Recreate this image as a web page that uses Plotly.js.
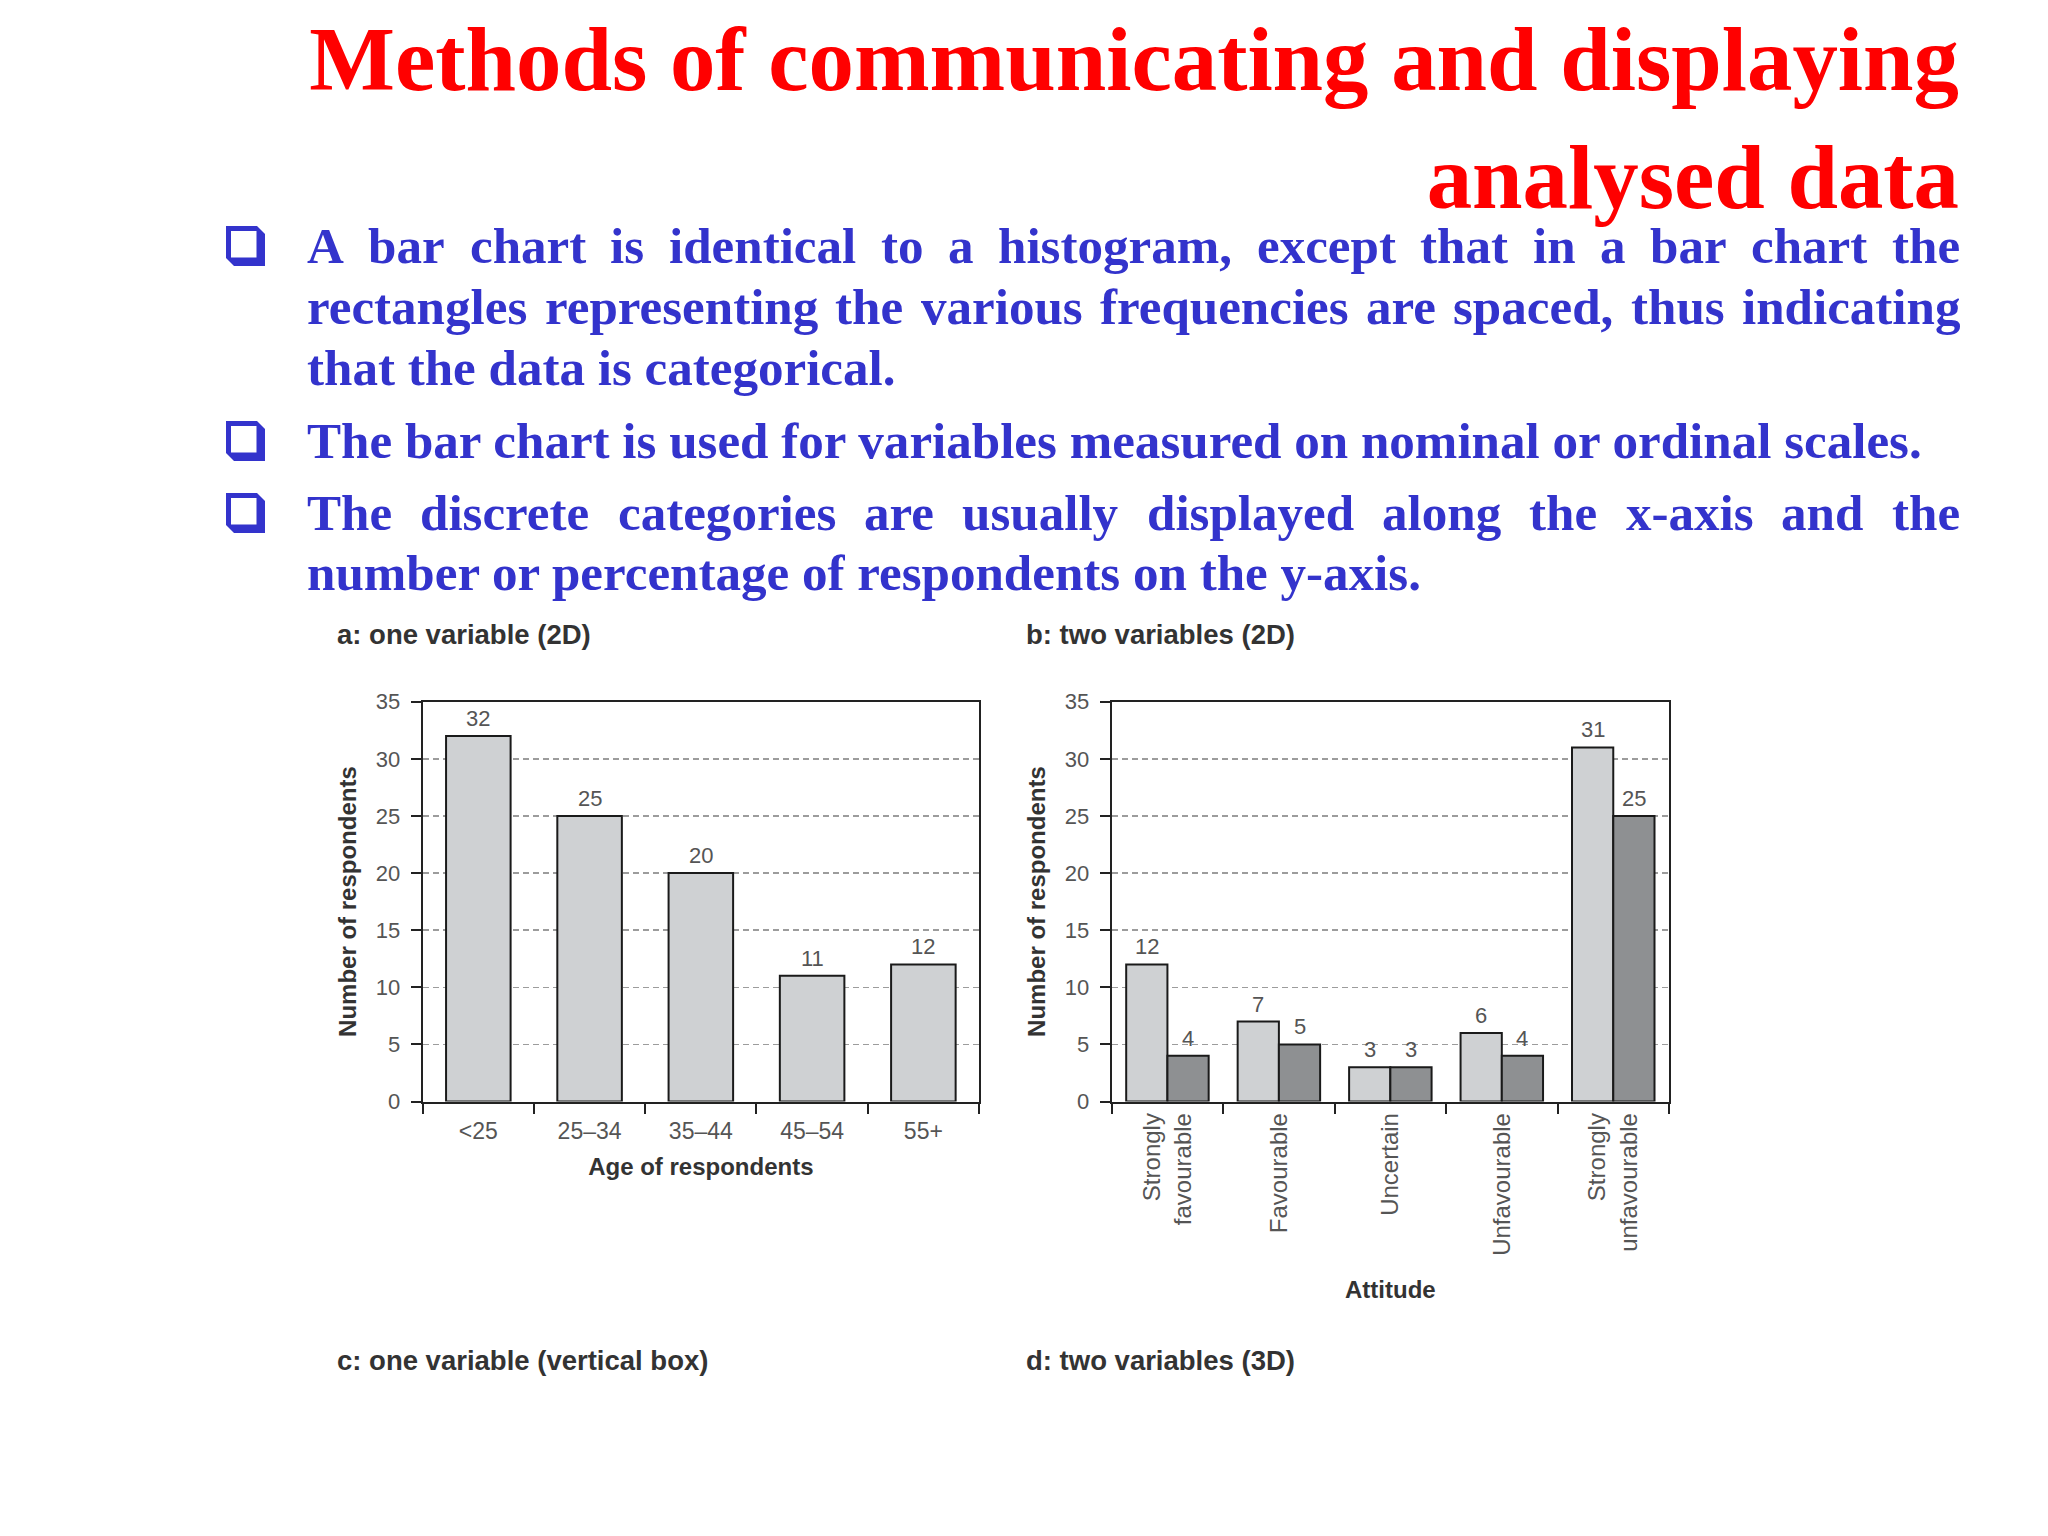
<!DOCTYPE html>
<html>
<head>
<meta charset="utf-8">
<script src="https://cdn.plot.ly/plotly-3.0.1.min.js"></script>
<style>
  html, body { margin: 0; padding: 0; background: #ffffff; }
  #chart { width: 2048px; height: 1536px; }
</style>
</head>
<body>
<div id="chart"></div>
<script>
// ---------------- DATA ----------------
const titleLines = ["Methods of communicating and displaying", "analysed data"];
const bulletTexts = [
  ["A bar chart is identical to a histogram, except that in a bar chart the",
   "rectangles representing the various frequencies are spaced, thus indicating",
   "that the data is categorical."],
  ["The bar chart is used for variables measured on nominal or ordinal scales."],
  ["The discrete categories are usually displayed along the x-axis and the",
   "number or percentage of respondents on the y-axis."]
];
const bulletJustified = [[true, true, false], [false], [true, false]];
const panelLabels = ["a: one variable (2D)", "b: two variables (2D)",
                     "c: one variable (vertical box)", "d: two variables (3D)"];

const ageCategories = ["<25", "25–34", "35–44", "45–54", "55+"];
const ageCounts = [32, 25, 20, 11, 12];

const attitudeCategories = ["Strongly<br>favourable", "Favourable", "Uncertain",
                            "Unfavourable", "Strongly<br>unfavourable"];
const attitudeLight = [12, 7, 3, 6, 31];
const attitudeDark = [4, 5, 3, 4, 25];

const yTickValues = [0, 5, 10, 15, 20, 25, 30, 35];

// ---------------- LAYOUT HELPERS ----------------
const W = 2048, H = 1536;
const px = x => x / W;
const py = y => 1 - y / H;

const ctx = document.createElement('canvas').getContext('2d');
function textWidth(t, size, family, weight) {
  ctx.font = weight + ' ' + size + 'px ' + family;
  return ctx.measureText(t).width;
}

const SERIF = 'Liberation Serif';
const SANS = 'Liberation Sans';
const RED = '#ff0000';
const BLUE = '#3333cc';

// title size: first line spans x 309..1959
const titleSize = 100 * 1650 / textWidth(titleLines[0], 100, '"' + SERIF + '"', 'bold');
// body size: bullet 2 spans x 306..1924
const bodySize = 100 * 1618 / textWidth(bulletTexts[1][0], 100, '"' + SERIF + '"', 'bold');

const textLeft = 306, textRight = 1959;
const baselines = [[263, 323.5, 384.5], [457.5], [529.5, 589.5]];
const bulletTops = [226, 421, 493];

const annotations = [];
const shapes = [];

function bodyAnno(text, x, baseline) {
  annotations.push({
    xref: 'paper', yref: 'paper', x: px(x), y: py(baseline - 0.3375 * bodySize),
    xanchor: 'left', yanchor: 'middle', showarrow: false, borderpad: 0,
    text: text,
    font: { family: SERIF, size: bodySize, color: BLUE, weight: 'bold' }
  });
}

bulletTexts.forEach((lines, bi) => {
  lines.forEach((line, li) => {
    const bl = baselines[bi][li];
    if (bulletJustified[bi][li]) {
      const words = line.split(' ');
      const ws = words.map(w => textWidth(w, bodySize, '"' + SERIF + '"', 'bold'));
      const total = ws.reduce((a, b) => a + b, 0);
      const gap = (textRight - textLeft - total) / (words.length - 1);
      let x = textLeft;
      words.forEach((w, i) => { bodyAnno(w, x, bl); x += ws[i] + gap; });
    } else {
      bodyAnno(line, textLeft, bl);
    }
  });
  // shadowed box bullet
  const L = 226, T = bulletTops[bi];
  const p = (x, y) => px(x) + ',' + py(y);
  shapes.push({
    type: 'path', xref: 'paper', yref: 'paper', layer: 'above',
    path: 'M' + p(L, T) + ' L' + p(L + 31, T) + ' L' + p(L + 39, T + 8) + ' L' + p(L + 39, T + 40) +
          ' L' + p(L + 8, T + 40) + ' L' + p(L, T + 32) + ' Z',
    fillcolor: BLUE, line: { width: 0 }
  });
  shapes.push({
    type: 'rect', xref: 'paper', yref: 'paper', layer: 'above',
    x0: px(L + 5), x1: px(L + 30.5), y0: py(T + 31.5), y1: py(T + 5),
    fillcolor: '#ffffff', line: { width: 0 }
  });
});

// panel labels
const panelPos = [[336, 635], [1025, 635], [336, 1360], [1025, 1360]];
panelLabels.forEach((t, i) => {
  annotations.push({
    xref: 'paper', yref: 'paper', x: px(panelPos[i][0]), y: py(panelPos[i][1]),
    xanchor: 'left', yanchor: 'middle', showarrow: false, borderpad: 0, text: t,
    font: { family: SANS, size: 27.5, color: '#333333', weight: 'bold' }
  });
});

// value labels chart a
ageCategories.forEach((c, i) => {
  annotations.push({
    xref: 'x', yref: 'y', x: c, y: ageCounts[i], xanchor: 'center', yanchor: 'bottom',
    yshift: 4, showarrow: false, borderpad: 0, text: String(ageCounts[i]),
    font: { family: SANS, size: 22, color: '#555555' }
  });
});
// value labels chart b
const bGap = 0.26, half = (1 - bGap) / 4;
attitudeCategories.forEach((c, i) => {
  [[attitudeLight, -half], [attitudeDark, half]].forEach(([arr, off]) => {
    annotations.push({
      xref: 'x2', yref: 'y2', x: i + off, y: arr[i], xanchor: 'center', yanchor: 'bottom',
      yshift: 4, showarrow: false, borderpad: 0, text: String(arr[i]),
      font: { family: SANS, size: 22, color: '#555555' }
    });
  });
});

// ---------------- TRACES ----------------
const barLine = { color: '#1a1a1a', width: 2 };
const traces = [
  { type: 'bar', x: ageCategories, y: ageCounts, xaxis: 'x', yaxis: 'y', width: 0.58,
    marker: { color: '#cfd1d3', line: barLine }, hoverinfo: 'x+y' },
  { type: 'bar', x: attitudeCategories, y: attitudeLight, xaxis: 'x2', yaxis: 'y2',
    marker: { color: '#cfd1d3', line: barLine } },
  { type: 'bar', x: attitudeCategories, y: attitudeDark, xaxis: 'x2', yaxis: 'y2',
    marker: { color: '#8e9092', line: barLine } }
];

const yDomain = [py(1101.5), py(701.7)];
function yAxis(anchor) {
  return {
    domain: yDomain, anchor: anchor, range: [0, 35], tickvals: yTickValues,
    ticks: 'outside', ticklen: 10, tickwidth: 2, tickcolor: '#222222',
    showline: true, linecolor: '#222222', linewidth: 2, mirror: true,
    showgrid: true, gridcolor: '#9c9c9c', gridwidth: 1.5, griddash: '6px,4px',
    zeroline: false, ticklabelstandoff: 6,
    tickfont: { family: SANS, size: 22, color: '#555555' },
    title: { text: 'Number of respondents', standoff: 12,
             font: { family: SANS, size: 24, color: '#333333', weight: 'bold' } },
    fixedrange: true
  };
}
function xAxis(anchor, domain, titleText, angle, size, labelStandoff, standoff) {
  return {
    domain: domain, anchor: anchor, type: 'category', tickson: 'boundaries',
    ticks: 'outside', ticklen: 10, tickwidth: 2, tickcolor: '#222222',
    showline: true, linecolor: '#222222', linewidth: 2, mirror: true,
    showgrid: false, zeroline: false, tickangle: angle, ticklabelstandoff: labelStandoff,
    tickfont: { family: SANS, size: size, color: '#555555' },
    title: { text: titleText, standoff: standoff,
             font: { family: SANS, size: 24, color: '#333333', weight: 'bold' } },
    fixedrange: true
  };
}

const layout = {
  width: W, height: H,
  margin: { l: 0, r: 0, t: 0, b: 0, pad: 0 },
  paper_bgcolor: '#ffffff', plot_bgcolor: '#ffffff',
  showlegend: false,
  barmode: 'group', bargap: bGap, bargroupgap: 0,
  title: {
    text: titleLines.join('<br>'),
    xref: 'paper', x: px(1959), xanchor: 'right',
    yref: 'container', y: py(90), yanchor: 'top',
    font: { family: SERIF, size: titleSize, color: RED, weight: 'bold' }
  },
  xaxis: xAxis('y', [px(422.7), px(979)], 'Age of respondents', 0, 23, 8, 15),
  yaxis: yAxis('x'),
  xaxis2: xAxis('y2', [px(1111.7), px(1669)], 'Attitude', -90, 24, 0, 26),
  yaxis2: yAxis('x2'),
  annotations: annotations,
  shapes: shapes
};

Plotly.newPlot('chart', traces, layout, { displayModeBar: false, staticPlot: true });
</script>
</body>
</html>
